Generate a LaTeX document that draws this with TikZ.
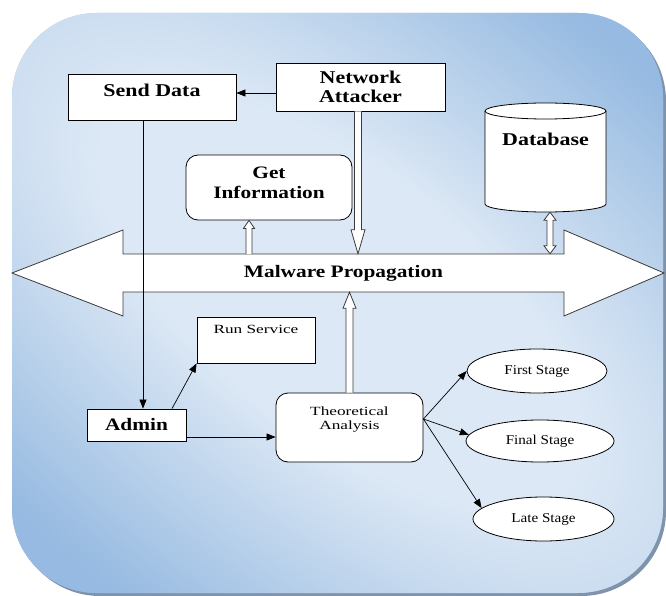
\documentclass[tikz,border=0pt]{standalone}
\usepackage{fontspec}
\setmainfont{Liberation Serif}
\newfontfamily\bfw{Liberation Serif}[FakeStretch=1.22]
\newfontfamily\rmw{Liberation Serif}[FakeStretch=1.38]
\newfontfamily\rms{Liberation Serif}[FakeStretch=1.12]
\usetikzlibrary{shapes.geometric,arrows.meta,calc}
\definecolor{bglight}{HTML}{DCE8F5}
\definecolor{bgdark}{HTML}{96BAE1}
\definecolor{shadowc}{HTML}{7F93AB}
\definecolor{hollowc}{HTML}{3A3A3A}
\pgfdeclareradialshading{bgshade}{\pgfpoint{0bp}{0bp}}{color(0bp)=(bglight); color(8bp)=(bglight); color(23bp)=(bgdark); color(50bp)=(bgdark)}
\newcommand\harrow[5]{%
 \coordinate (hA) at ($(#2)!#5!(#1)$);
 \filldraw[hollow] ($(#1)!#3!90:(#2)$) -- ($(hA)!#3!90:(#2)$) -- ($(hA)!#4!90:(#2)$) -- (#2) -- ($(hA)!#4!-90:(#2)$) -- ($(hA)!#3!-90:(#2)$) -- ($(#1)!#3!-90:(#2)$);}
\newcommand\dharrow[5]{%
 \coordinate (hA) at ($(#1)!#5!(#2)$);
 \coordinate (hB) at ($(#2)!#5!(#1)$);
 \filldraw[hollow] (#1) -- ($(hA)!#4!90:(#2)$) -- ($(hA)!#3!90:(#2)$) -- ($(hB)!#3!-90:(#1)$) -- ($(hB)!#4!-90:(#1)$) -- (#2) -- ($(hB)!#4!90:(#1)$) -- ($(hB)!#3!90:(#1)$) -- ($(hA)!#3!-90:(#2)$) -- ($(hA)!#4!-90:(#2)$) -- cycle;}
\begin{document}
\begin{tikzpicture}[x=1pt,y=-1pt,
  boxst/.style={draw=black, fill=white, line width=0.8pt, inner sep=0pt},
  ellst/.style={ellipse, draw=black, fill=white, line width=0.8pt, inner sep=0pt, font=\rms\fontsize{13.5}{15}\selectfont},
  bfl/.style={font=\bfw\bfseries\fontsize{#1}{19}\selectfont},
  rml/.style={font=\rmw\fontsize{12.5}{14}\selectfont},
  arr/.style={-{Triangle[length=9pt,width=7pt]}, line width=0.7pt, draw=black},
  hollow/.style={draw=hollowc, fill=white, line width=0.8pt}]
\useasboundingbox (0,0) rectangle (666,596);
% background
\fill[shadowc, rounded corners=85pt] (15,16) rectangle (666,596);
\begin{scope}
  \clip[rounded corners=85pt] (12,13) rectangle (663,593);
  \fill[bgdark] (0,0) rectangle (666,596);
  \begin{scope}[transform canvas={rotate around={-38:(340,300)}}]
    \shade[shading=bgshade] (340,300) ellipse [x radius=900, y radius=400];
  \end{scope}
\end{scope}
% big double arrow
\filldraw[hollow] (12,273) -- (123,230) -- (123,254) -- (564,254) -- (564,230) -- (664,273)
  -- (564,316) -- (564,292) -- (123,292) -- (123,316) -- cycle;
\node[inner sep=0pt, minimum width=441pt, minimum height=38pt, bfl=17.5] (mp) at (343.5,273) {Malware Propagation};
% boxes
\node[boxst, minimum width=168pt, minimum height=46pt, bfl=18, text depth=14pt] (sd) at (152,97) {Send Data};
\node[boxst, minimum width=169pt, minimum height=48pt, bfl=18, align=center] (na) at (360.5,87) {Network\\Attacker};
\node[boxst, rounded corners=12pt, minimum width=166pt, minimum height=65pt, align=center, font=\bfw\bfseries\fontsize{17.5}{20}\selectfont] (gi) at (269,187.5) {Get\\Information\\[-11pt]\mbox{}};
% database cylinder
\filldraw[draw=black, fill=white, line width=0.8pt] (485,111) -- (485,204) arc[start angle=180, end angle=0, x radius=60.5, y radius=8]
  -- (606,111) arc[start angle=0, end angle=-180, x radius=60.5, y radius=8] -- cycle;
\draw[line width=0.8pt] (485,111) arc[start angle=180, end angle=0, x radius=60.5, y radius=8];
\node[inner sep=0pt, minimum width=121pt, minimum height=109pt, bfl=18, text depth=37pt] (db) at (545.5,157.5) {Database};
\node[boxst, minimum width=118pt, minimum height=46pt, rml, text depth=22pt] (rs) at (256,340) {Run Service};
\node[boxst, minimum width=99pt, minimum height=32pt, bfl=17.5] (ad) at (136.5,425) {Admin};
\node[boxst, rounded corners=12pt, minimum width=147pt, minimum height=69pt, align=center, rml] (ta) at (349.5,427.5) {Theoretical\\Analysis\\[4pt]\mbox{}};
\node[ellst, minimum width=140pt, minimum height=44pt] (fs) at (537,371) {First Stage};
\node[ellst, minimum width=148pt, minimum height=42pt] (fl) at (540,441) {Final Stage};
\node[ellst, minimum width=141pt, minimum height=44pt] (ls) at (543.5,519) {Late Stage};
% connectors
\draw[arr] ([yshift=-6pt]na.west) coordinate (t1) -- (t1 -| sd.east);
\draw[arr] ([xshift=-9pt]sd.south) coordinate (t2) -- (t2 |- ad.north);
\draw[arr] ([xshift=35.5pt]ad.north) -- (rs.south west);
\draw[arr] ([yshift=-12pt]ad.east) coordinate (t3) -- (t3 -| ta.west);
\coordinate (tao) at ([yshift=8.5pt]ta.east);
\draw[arr] (tao) -- (fs.west);
\draw[arr] (tao) -- (fl.175);
\draw[arr] (tao) -- (ls.170);
% hollow arrows
\coordinate (nab) at ([xshift=-2.5pt]na.south);
\coordinate (nat) at (nab |- mp.north);
\harrow{nab}{nat}{3.5pt}{7pt}{24pt}
\coordinate (gib) at ([xshift=-20pt]gi.south);
\coordinate (gia) at (gib |- mp.north);
\harrow{gia}{gib}{3pt}{5.5pt}{8pt}
\coordinate (tab) at (ta.north);
\coordinate (tat) at (tab |- mp.south);
\harrow{tab}{tat}{3.5pt}{6.5pt}{16pt}
\coordinate (dba) at ([xshift=4.5pt]db.south);
\coordinate (dbb) at (dba |- mp.north);
\dharrow{dba}{dbb}{3pt}{6pt}{8pt}
\end{tikzpicture}
\end{document}
